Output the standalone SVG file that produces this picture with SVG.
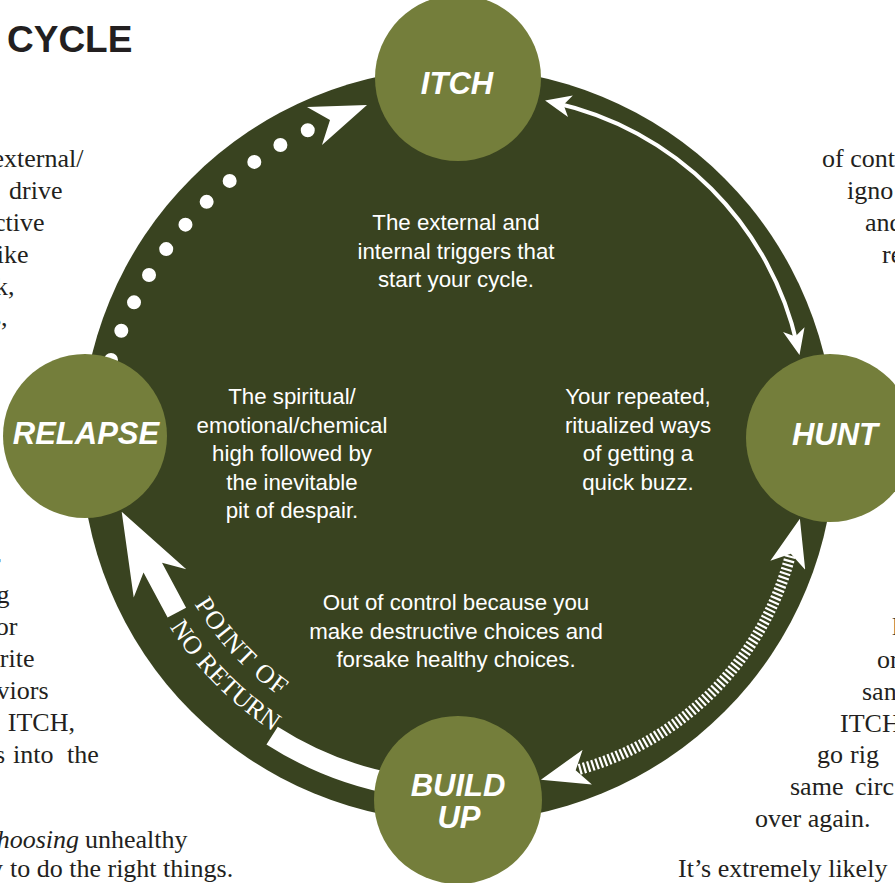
<svg xmlns="http://www.w3.org/2000/svg" width="895" height="883" viewBox="0 0 895 883">
<style>
.body{font-family:"Liberation Serif","Times New Roman",serif;font-size:26px;fill:#231f20}
.title{font-family:"Liberation Sans",Arial,sans-serif;font-size:37px;font-weight:bold;fill:#231f20}
.inner{font-family:"Liberation Sans",Arial,sans-serif;font-size:22.3px;fill:#fff;text-anchor:middle}
.label{font-family:"Liberation Sans",Arial,sans-serif;font-size:31px;font-weight:bold;font-style:italic;fill:#fff;text-anchor:middle}
.node{fill:#747e3b}
.ring{fill:#394320}
.pnr{font-family:"Liberation Serif","Times New Roman",serif;font-size:26px;fill:#fff}
.white{fill:#fff}
</style>
<defs>
<marker id="thinHead" markerUnits="userSpaceOnUse" viewBox="0 0 26 22" markerWidth="26" markerHeight="22" refX="16" refY="11" orient="auto-start-reverse">
<path d="M26,11 L0,0 L7,11 L0,22 Z" fill="#fff"/>
</marker>
<marker id="hatchHead" markerUnits="userSpaceOnUse" viewBox="0 0 48 36" markerWidth="48" markerHeight="36" refX="10" refY="18" orient="auto-start-reverse">
<path d="M48,18 L0,0 L12,18 L0,36 Z" fill="#fff"/>
</marker>
<path id="arcPoint" d="M174.5,565.3 A308,308 0 0,0 318.2,719.4"/>
<path id="arcReturn" d="M148.2,587.5 A342,342 0 0,0 312.3,753.3"/>
</defs>

<!-- surrounding text -->
<g id="page-text">
<text class="title" x="7" y="52">CYCLE</text>
<text class="body" text-anchor="end">
<tspan x="90" y="167">external/</tspan>
<tspan x="69" y="199">drive</tspan>
<tspan x="51" y="231">ctive</tspan>
<tspan x="35" y="263">ike</tspan>
<tspan x="21" y="295">rk,</tspan>
<tspan x="14" y="326">s,</tspan>
<tspan x="7" y="571">r</tspan>
<tspan x="16" y="603">ng</tspan>
<tspan x="24" y="635">/or</tspan>
<tspan x="41" y="667">orite</tspan>
<tspan x="55" y="699">aviors</tspan>
<tspan x="75" y="731">ITCH,</tspan>
</text>
<text class="body"><tspan x="-5" y="763">s</tspan><tspan x="13" y="763">into</tspan><tspan x="67" y="763">the</tspan></text>
<text class="body" x="79" y="848" text-anchor="end" font-style="italic">choosing</text>
<text class="body" x="85" y="848">unhealthy</text>
<text class="body"><tspan x="-10" y="877">y</tspan><tspan x="10" y="877">to do the right things.</tspan></text>

<text class="body">
<tspan x="822" y="167">of cont</tspan>
<tspan x="847" y="199">igno</tspan>
<tspan x="865" y="231">and</tspan>
<tspan x="882" y="263">re</tspan>
<tspan x="892" y="635">l</tspan>
<tspan x="877" y="668">or</tspan>
<tspan x="862" y="700">san</tspan>
<tspan x="840" y="732">ITCH</tspan>
<tspan x="817" y="763">go</tspan><tspan x="850" y="763">rig</tspan>
<tspan x="790" y="795">same</tspan><tspan x="855" y="795">circ</tspan>
<tspan x="755" y="827">over again.</tspan>
<tspan x="678" y="877">It’s extremely likely</tspan>
</text>
</g>

<!-- big ring -->
<g id="cycle">
<circle class="ring" cx="458" cy="445" r="377"/>
<text class="inner"><tspan x="456" y="230">The external and</tspan><tspan x="456" y="258.5">internal triggers that</tspan><tspan x="456" y="287">start your cycle.</tspan></text>
<text class="inner"><tspan x="292" y="404">The spiritual/</tspan><tspan x="292" y="432.5">emotional/chemical</tspan><tspan x="292" y="461">high followed by</tspan><tspan x="292" y="489.5">the inevitable</tspan><tspan x="292" y="518">pit of despair.</tspan></text>
<text class="inner"><tspan x="638" y="404">Your repeated,</tspan><tspan x="638" y="432.5">ritualized ways</tspan><tspan x="638" y="461">of getting a</tspan><tspan x="638" y="489.5">quick buzz.</tspan></text>
<text class="inner"><tspan x="456" y="610">Out of control because you</tspan><tspan x="456" y="638.5">make destructive choices and</tspan><tspan x="456" y="667">forsake healthy choices.</tspan></text>
</g>

<!-- connectors -->
<g id="connectors">
<path d="M554.8,102.7 A320,320 0 0,1 797.3,345.2" fill="none" stroke="#fff" stroke-width="4" marker-start="url(#thinHead)" marker-end="url(#thinHead)"/>
<path d="M790.3,555.6 A300,300 0 0,1 577.6,769.8" fill="none" stroke="#fff" stroke-width="11" stroke-dasharray="2.2 2.2" marker-start="url(#hatchHead)" marker-end="url(#hatchHead)"/>
<path d="M111,360 A379,379 0 0,1 308.3,130" fill="none" stroke="#fff" stroke-width="14" stroke-linecap="round" stroke-dasharray="0 31.1"/>
<path class="white" d="M367,105 L307,107 L330,120 L322,145 Z"/>
<path class="white" d="M121.7,511.7 L186.3,569.2 L162,562.7 L186.1,607.7 L167.6,617.6 L143.5,572.6 L133.7,597.4 Z"/>
<path d="M272.1,735.6 A345,345 0 0,0 398.1,784.8" fill="none" stroke="#fff" stroke-width="21"/>
<text class="pnr" letter-spacing="1.5"><textPath href="#arcPoint" startOffset="50%" text-anchor="middle">POINT OF</textPath></text>
<text class="pnr"><textPath href="#arcReturn" startOffset="50%" text-anchor="middle">NO RETURN</textPath></text>
</g>

<!-- nodes -->
<g id="node-itch">
<circle class="node" cx="458" cy="78" r="83"/>
<text class="label" x="457" y="94">ITCH</text>
</g>
<g id="node-hunt">
<circle class="node" cx="830" cy="438" r="84"/>
<text class="label" x="835" y="445">HUNT</text>
</g>
<g id="node-relapse">
<circle class="node" cx="85" cy="436" r="82"/>
<text class="label" x="86" y="444">RELAPSE</text>
</g>
<g id="node-buildup">
<circle class="node" cx="458" cy="800" r="84"/>
<text class="label"><tspan x="458" y="796">BUILD</tspan><tspan x="459" y="828">UP</tspan></text>
</g>
</svg>
